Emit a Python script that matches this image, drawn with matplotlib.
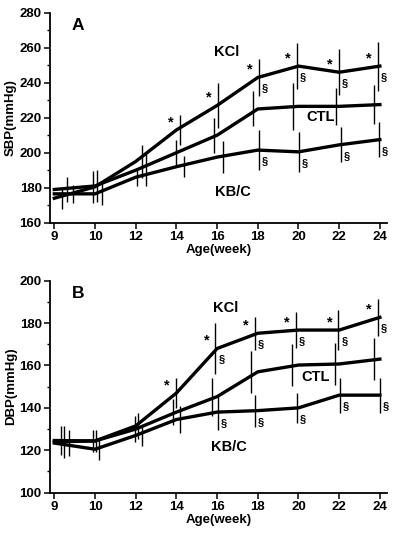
import numpy as np
import matplotlib
matplotlib.use('Agg')
import matplotlib.pyplot as plt
from matplotlib.ticker import MultipleLocator

plt.rcParams['font.family'] = ['Liberation Sans', 'DejaVu Sans']
plt.rcParams['font.weight'] = 'bold'

weeks = ['9', '10', '12', '14', '16', '18', '20', '22', '24']

# panel A - systolic
kcl_sbp = [174, 180.5, 195, 213, 227, 243, 249.5, 246, 249.5]
ctl_sbp = [179, 181, 190, 200, 210, 225, 226.5, 226.5, 227.5]
kbc_sbp = [176.5, 176.5, 186, 192, 197.5, 201.5, 200.5, 204.5, 207.5]
kcl_sbp_sd = [6, 9, 9.5, 8.5, 13, 10.5, 13, 13, 14]
ctl_sbp_sd = [7, 9, 9, 7.5, 10, 10, 13.5, 10.5, 11]
kbc_sbp_sd = [5, 6.5, 5, 6, 9, 11.5, 11.5, 10, 10]

# panel B - diastolic
kcl_dbp = [124.6, 124.4, 131.5, 147, 168, 175.2, 176.7, 176.7, 182.7]
ctl_dbp = [124, 124.4, 130, 138, 145.3, 157, 160.2, 160.7, 163]
kbc_dbp = [123.4, 120.5, 127, 134.5, 138, 138.7, 140, 146, 146]
kcl_dbp_sd = [7, 5, 6, 7, 12, 7.7, 8.6, 9.3, 8.6]
ctl_dbp_sd = [7.5, 5, 6, 6.3, 9, 10, 10, 10, 10]
kbc_dbp_sd = [6, 5, 5, 6.3, 8.3, 7.5, 7, 8.2, 8.2]

# significance marks (index into weeks)
star_idx = [3, 4, 5, 6, 7, 8]
sect_a_idx = [5, 6, 7, 8]
sect_b_idx = [4, 5, 6, 7, 8]

# horizontal offsets of the error bars (category units)
off_a = {
    'kcl': [0.18, -0.04, 0.15, 0.08, 0.02, 0.02, -0.04, 0.0, -0.04],
    'ctl': [0.30, 0.04, 0.25, 0.0, -0.07, -0.11, -0.13, -0.07, -0.15],
    'kbc': [0.45, 0.18, 0.04, 0.19, 0.15, 0.03, 0.02, 0.04, -0.02],
}
off_b = {
    'kcl': [0.16, -0.06, 0.06, -0.02, -0.04, -0.07, -0.07, -0.02, -0.04],
    'ctl': [0.25, 0.02, -0.02, -0.08, -0.12, -0.17, -0.15, -0.11, -0.15],
    'kbc': [0.35, 0.11, 0.16, 0.08, 0.02, -0.07, -0.04, 0.02, 0.0],
}

x = np.arange(len(weeks))

fig = plt.figure(figsize=(4, 5.35), dpi=100)
axA = fig.add_axes([0.125, 0.5837, 0.842, 0.3925])
axB = fig.add_axes([0.125, 0.0791, 0.842, 0.3963])


def draw_panel(ax, series, offs, sect_idx, ylim, ylabel, letter, labels):
    for key, vals, sd in series:
        ax.plot(x, vals, color='black', lw=2.4, solid_joinstyle='miter', zorder=3)
        ax.vlines(x + np.array(offs[key]), np.array(vals) - np.array(sd),
                  np.array(vals) + np.array(sd), color='black', lw=1.0, zorder=2)
    kcl = series[0][1]
    kbc = series[2][1]
    for i in star_idx:
        ax.annotate('*', xy=(x[i] + offs['kcl'][i], kcl[i]), xytext=(-9, 8),
                    textcoords='offset pixels', ha='center', va='center',
                    fontsize=10.5, fontweight='bold')
    for i in sect_idx:
        for vals, key in [(kcl, 'kcl'), (kbc, 'kbc')]:
            ax.annotate('§', xy=(x[i] + offs[key][i], vals[i]), xytext=(6, -11),
                        textcoords='offset pixels', ha='center', va='center',
                        fontsize=8, fontweight='bold')
    ax.set_xlim(-0.106, 8.17)
    ax.set_ylim(*ylim)
    ax.set_xticks(x)
    ax.set_xticklabels(weeks)
    ax.yaxis.set_major_locator(MultipleLocator(20))
    ax.yaxis.set_minor_locator(MultipleLocator(10))
    ax.spines['top'].set_visible(False)
    ax.spines['right'].set_visible(False)
    for s in ['left', 'bottom']:
        ax.spines[s].set_linewidth(1.3)
    ax.tick_params(axis='both', which='major', length=4, width=1.1,
                   labelsize=9.5, direction='out', pad=2)
    ax.tick_params(axis='y', which='minor', length=2.5, width=1.0)
    for lab in ax.get_xticklabels() + ax.get_yticklabels():
        lab.set_fontweight('bold')
    ax.set_xlabel('Age(week)', fontsize=9.5, fontweight='bold', labelpad=1)
    ax.set_ylabel(ylabel, fontsize=9.5, fontweight='bold', labelpad=2)
    ax.text(0.58, ylim[1] - 0.06 * (ylim[1] - ylim[0]), letter, fontsize=12.5,
            fontweight='bold', ha='center', va='center')
    for txt, tx, ty in labels:
        ax.text(tx, ty, txt, fontsize=10.5, fontweight='bold', ha='center', va='center')


draw_panel(axA,
           [('kcl', kcl_sbp, kcl_sbp_sd), ('ctl', ctl_sbp, ctl_sbp_sd), ('kbc', kbc_sbp, kbc_sbp_sd)],
           off_a, sect_a_idx, (160, 280), 'SBP(mmHg)', 'A',
           [('KCl', 4.24, 257.7), ('CTL', 6.55, 220.6), ('KB/C', 4.4, 177.7)])
draw_panel(axB,
           [('kcl', kcl_dbp, kcl_dbp_sd), ('ctl', ctl_dbp, ctl_dbp_sd), ('kbc', kbc_dbp, kbc_dbp_sd)],
           off_b, sect_b_idx, (100, 200), 'DBP(mmHg)', 'B',
           [('KCl', 4.2, 187), ('CTL', 6.43, 154.7), ('KB/C', 4.3, 121.7)])

fig.savefig('out.png', dpi=100)
